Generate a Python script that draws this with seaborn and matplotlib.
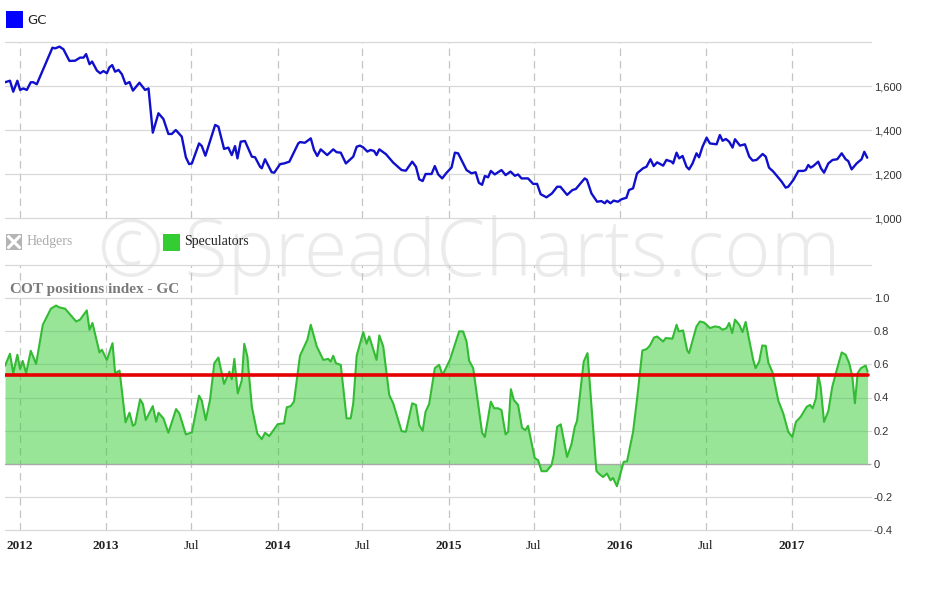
import numpy as np
import pandas as pd
import matplotlib
matplotlib.use("Agg")
import matplotlib.pyplot as plt
import seaborn as sns
from matplotlib.patches import Rectangle
from matplotlib.lines import Line2D

# ---------------- data (time in decimal years) ----------------
gc_time = [2012.411, 2012.440, 2012.459, 2012.483, 2012.499, 2012.518, 2012.538, 2012.561, 2012.576, 2012.596,
           2012.687, 2012.703, 2012.728, 2012.751, 2012.786, 2012.819, 2012.848, 2012.868, 2012.883, 2012.903,
           2012.918, 2012.946, 2012.965, 2012.984, 2013.004, 2013.019, 2013.035, 2013.052, 2013.072, 2013.092,
           2013.113, 2013.136, 2013.156, 2013.194, 2013.227, 2013.247, 2013.272, 2013.305, 2013.334, 2013.363,
           2013.383, 2013.406, 2013.441, 2013.465, 2013.484, 2013.500, 2013.542, 2013.558, 2013.579, 2013.636,
           2013.655, 2013.688, 2013.713, 2013.733, 2013.752, 2013.766, 2013.785, 2013.810, 2013.850, 2013.869,
           2013.898, 2013.908, 2013.927, 2013.966, 2013.981, 2014.015, 2014.038, 2014.069, 2014.121, 2014.131,
           2014.160, 2014.194, 2014.213, 2014.232, 2014.252, 2014.290, 2014.325, 2014.345, 2014.369, 2014.399,
           2014.442, 2014.462, 2014.481, 2014.500, 2014.524, 2014.543, 2014.563, 2014.578, 2014.594, 2014.633,
           2014.675, 2014.724, 2014.749, 2014.786, 2014.808, 2014.827, 2014.847, 2014.864, 2014.899, 2014.918,
           2014.938, 2014.961, 2014.987, 2015.016, 2015.035, 2015.054, 2015.103, 2015.132, 2015.156, 2015.175,
           2015.194, 2015.210, 2015.229, 2015.245, 2015.268, 2015.307, 2015.331, 2015.360, 2015.385, 2015.404,
           2015.424, 2015.462, 2015.492, 2015.515, 2015.536, 2015.570, 2015.602, 2015.632, 2015.651, 2015.690,
           2015.721, 2015.741, 2015.793, 2015.806, 2015.832, 2015.865, 2015.890, 2015.910, 2015.923, 2015.943,
           2015.962, 2015.987, 2016.007, 2016.036, 2016.051, 2016.075, 2016.098, 2016.133, 2016.153, 2016.176,
           2016.195, 2016.215, 2016.250, 2016.269, 2016.299, 2016.308, 2016.328, 2016.343, 2016.363, 2016.386,
           2016.401, 2016.421, 2016.444, 2016.459, 2016.479, 2016.503, 2016.522, 2016.561, 2016.580, 2016.596,
           2016.615, 2016.634, 2016.654, 2016.668, 2016.697, 2016.726, 2016.751, 2016.771, 2016.794, 2016.829,
           2016.847, 2016.866, 2016.891, 2016.940, 2016.963, 2016.978, 2017.008, 2017.037, 2017.066, 2017.080,
           2017.095, 2017.109, 2017.124, 2017.153, 2017.169, 2017.187, 2017.212, 2017.237, 2017.264, 2017.290,
           2017.313, 2017.328, 2017.348, 2017.377, 2017.406, 2017.422, 2017.439]
gc_price = [1617, 1624, 1574, 1624, 1582, 1589, 1582, 1617, 1617, 1608,
            1774, 1771, 1779, 1767, 1714, 1715, 1729, 1729, 1745, 1699,
            1711, 1670, 1658, 1668, 1658, 1685, 1695, 1665, 1673, 1653,
            1609, 1618, 1579, 1615, 1582, 1589, 1388, 1476, 1450, 1382,
            1382, 1400, 1370, 1276, 1245, 1248, 1339, 1327, 1283, 1423,
            1415, 1314, 1320, 1286, 1327, 1271, 1347, 1350, 1279, 1276,
            1233, 1226, 1267, 1208, 1206, 1245, 1248, 1256, 1339, 1345,
            1342, 1362, 1309, 1282, 1312, 1286, 1312, 1299, 1297, 1248,
            1279, 1324, 1329, 1321, 1302, 1309, 1305, 1286, 1312, 1290,
            1252, 1218, 1215, 1256, 1233, 1176, 1168, 1200, 1200, 1236,
            1198, 1180, 1206, 1230, 1297, 1294, 1218, 1203, 1208, 1160,
            1151, 1191, 1185, 1214, 1198, 1218, 1195, 1211, 1192, 1198,
            1180, 1180, 1155, 1155, 1108, 1094, 1112, 1142, 1142, 1105,
            1127, 1132, 1180, 1173, 1112, 1074, 1077, 1067, 1079, 1067,
            1079, 1074, 1085, 1092, 1127, 1135, 1203, 1226, 1233, 1267,
            1236, 1253, 1238, 1264, 1256, 1248, 1297, 1271, 1282, 1233,
            1221, 1248, 1294, 1276, 1324, 1365, 1339, 1335, 1377, 1351,
            1359, 1347, 1320, 1358, 1329, 1335, 1279, 1261, 1264, 1291,
            1279, 1229, 1211, 1165, 1138, 1142, 1173, 1214, 1214, 1218,
            1241, 1229, 1236, 1256, 1226, 1206, 1248, 1264, 1267, 1294,
            1267, 1259, 1221, 1248, 1267, 1301, 1274]

cot_time = [2012.411, 2012.440, 2012.459, 2012.483, 2012.499, 2012.514, 2012.534, 2012.561, 2012.592, 2012.631,
            2012.678, 2012.708, 2012.728, 2012.761, 2012.825, 2012.848, 2012.887, 2012.903, 2012.920, 2012.961,
            2012.975, 2013.004, 2013.037, 2013.052, 2013.078, 2013.113, 2013.136, 2013.156, 2013.169, 2013.198,
            2013.214, 2013.231, 2013.272, 2013.292, 2013.305, 2013.334, 2013.363, 2013.408, 2013.427, 2013.465,
            2013.500, 2013.542, 2013.558, 2013.581, 2013.606, 2013.631, 2013.655, 2013.688, 2013.719, 2013.733,
            2013.748, 2013.768, 2013.791, 2013.806, 2013.824, 2013.850, 2013.882, 2013.908, 2013.927, 2013.952,
            2014.001, 2014.038, 2014.054, 2014.077, 2014.096, 2014.131, 2014.174, 2014.194, 2014.229, 2014.267,
            2014.296, 2014.310, 2014.325, 2014.341, 2014.369, 2014.403, 2014.427, 2014.442, 2014.462, 2014.500,
            2014.520, 2014.535, 2014.578, 2014.594, 2014.617, 2014.652, 2014.675, 2014.724, 2014.749, 2014.786,
            2014.808, 2014.827, 2014.847, 2014.864, 2014.885, 2014.918, 2014.943, 2014.963, 2015.006, 2015.060,
            2015.083, 2015.103, 2015.118, 2015.142, 2015.194, 2015.210, 2015.245, 2015.264, 2015.287, 2015.307,
            2015.331, 2015.346, 2015.362, 2015.379, 2015.404, 2015.427, 2015.447, 2015.462, 2015.501, 2015.521,
            2015.541, 2015.570, 2015.599, 2015.612, 2015.632, 2015.653, 2015.690, 2015.715, 2015.735, 2015.748,
            2015.787, 2015.809, 2015.861, 2015.880, 2015.900, 2015.923, 2015.943, 2015.958, 2015.981, 2016.007,
            2016.020, 2016.040, 2016.075, 2016.098, 2016.129, 2016.153, 2016.172, 2016.197, 2016.215, 2016.250,
            2016.265, 2016.304, 2016.328, 2016.341, 2016.366, 2016.390, 2016.401, 2016.444, 2016.464, 2016.487,
            2016.503, 2016.522, 2016.551, 2016.576, 2016.596, 2016.619, 2016.634, 2016.652, 2016.668, 2016.693,
            2016.712, 2016.730, 2016.774, 2016.788, 2016.809, 2016.827, 2016.847, 2016.862, 2016.887, 2016.920,
            2016.949, 2016.978, 2017.002, 2017.023, 2017.051, 2017.086, 2017.105, 2017.121, 2017.140, 2017.153,
            2017.167, 2017.187, 2017.212, 2017.235, 2017.264, 2017.290, 2017.313, 2017.334, 2017.352, 2017.367,
            2017.383, 2017.402, 2017.430, 2017.441]
cot_index = [0.591, 0.664, 0.547, 0.658, 0.571, 0.621, 0.547, 0.682, 0.603, 0.839,
             0.936, 0.955, 0.944, 0.936, 0.859, 0.870, 0.926, 0.809, 0.850, 0.672,
             0.688, 0.627, 0.728, 0.547, 0.562, 0.250, 0.308, 0.229, 0.239, 0.389,
             0.361, 0.264, 0.348, 0.253, 0.308, 0.274, 0.187, 0.330, 0.304, 0.177,
             0.189, 0.411, 0.381, 0.264, 0.385, 0.607, 0.641, 0.482, 0.556, 0.510,
             0.633, 0.425, 0.502, 0.724, 0.647, 0.344, 0.183, 0.148, 0.187, 0.167,
             0.239, 0.244, 0.341, 0.348, 0.375, 0.652, 0.748, 0.839, 0.708, 0.627,
             0.633, 0.617, 0.652, 0.607, 0.597, 0.274, 0.274, 0.365, 0.652, 0.795,
             0.724, 0.769, 0.627, 0.775, 0.708, 0.415, 0.365, 0.197, 0.193, 0.365,
             0.355, 0.233, 0.199, 0.314, 0.361, 0.577, 0.597, 0.536, 0.627, 0.799,
             0.799, 0.738, 0.623, 0.577, 0.187, 0.162, 0.375, 0.335, 0.335, 0.324,
             0.177, 0.193, 0.450, 0.385, 0.355, 0.217, 0.203, 0.229, 0.035, 0.021,
             -0.045, -0.045, -0.009, 0.052, 0.223, 0.238, 0.041, 0.116, 0.223, 0.258,
             0.617, 0.668, -0.044, -0.064, -0.080, -0.059, -0.100, -0.086, -0.136, -0.039,
             0.011, 0.015, 0.193, 0.389, 0.684, 0.692, 0.712, 0.762, 0.768, 0.738,
             0.759, 0.755, 0.839, 0.799, 0.805, 0.684, 0.668, 0.829, 0.859, 0.853,
             0.839, 0.819, 0.829, 0.825, 0.809, 0.819, 0.850, 0.789, 0.870, 0.839,
             0.795, 0.856, 0.627, 0.577, 0.617, 0.714, 0.712, 0.611, 0.550, 0.381,
             0.304, 0.193, 0.162, 0.253, 0.284, 0.344, 0.355, 0.335, 0.395, 0.536,
             0.465, 0.253, 0.318, 0.465, 0.577, 0.672, 0.658, 0.607, 0.526, 0.365,
             0.547, 0.577, 0.593, 0.556]
cot_mean = 0.535

x_tick_dates = ["2012-07-01", "2013-01-01", "2013-07-01", "2014-01-01", "2014-07-01",
                "2015-01-01", "2015-07-01", "2016-01-01", "2016-07-01", "2017-01-01"]
x_tick_labels = ["2012", "2013", "Jul", "2014", "Jul", "2015", "Jul", "2016", "Jul", "2017"]
price_ticks = [1000, 1200, 1400, 1600, 1800]
price_labels = ["1,000", "1,200", "1,400", "1,600", ""]
cot_ticks = [-0.4, -0.2, 0, 0.2, 0.4, 0.6, 0.8, 1.0, 1.2]
cot_labels = ["-0.4", "-0.2", "0", "0.2", "0.4", "0.6", "0.8", "1.0", ""]


def to_date(t):
    y = int(np.floor(t))
    start = pd.Timestamp(y, 1, 1)
    ndays = (pd.Timestamp(y + 1, 1, 1) - start).days
    return start + pd.Timedelta(days=(t - y) * ndays)


gc_df = pd.DataFrame({"date": [to_date(t) for t in gc_time], "price": gc_price})
cot_df = pd.DataFrame({"date": [to_date(t) for t in cot_time], "index": cot_index})
cot_df["mean"] = cot_mean

# ---------------- style ----------------
sns.set_theme(style="white")
plt.rcParams["font.family"] = ["DejaVu Sans"]

W, H = 930, 610
fig = plt.figure(figsize=(W / 100, H / 100), dpi=100)
fig.patch.set_facecolor("white")


def box(l, t, r, b):
    return [l / W, 1 - b / H, (r - l) / W, (b - t) / H]


xmin = to_date(2012.411)
xmax = to_date(2017.461)
xt = [pd.Timestamp(d) for d in x_tick_dates]

ax1 = fig.add_axes(box(5, 42, 871, 218))
ax2 = fig.add_axes(box(5, 265, 871, 530))

for ax in (ax1, ax2):
    ax.set_facecolor("none")
    for s in ax.spines.values():
        s.set_visible(False)
    ax.set_axisbelow(True)
    ax.yaxis.tick_right()
    ax.tick_params(axis="both", length=0)
    ax.grid(axis="y", color="#d8d8d8", lw=0.9, ls="-")
    ax.grid(axis="x", color="#c4c4c4", lw=0.9, ls=(0, (6, 4)))

# ---- top: GC price ----
sns.lineplot(data=gc_df, x="date", y="price", ax=ax1, color="#1010cc", lw=1.7, legend=False)
ax1.set_ylim(1000, 1800)
ax1.set_yticks(price_ticks)
ax1.set_yticklabels(price_labels, fontsize=8, color="#333333", family="Liberation Sans")
ax1.tick_params(axis="y", pad=2)
ax1.set_xlim(xmin, xmax)
ax1.set_xticks(xt)
ax1.tick_params(axis="x", labelbottom=False)
ax1.set_xlabel("")
ax1.set_ylabel("")

# ---- bottom: COT index ----
ax2.fill_between(cot_df["date"], cot_df["index"], 0, color="#33cc33", alpha=0.5, lw=0)
sns.lineplot(data=cot_df, x="date", y="index", ax=ax2, color="#33bb33", lw=1.5, legend=False)
sns.lineplot(data=cot_df, x="date", y="mean", ax=ax2, color="#e60000", lw=2.6, legend=False)
ax2.axhline(0, color="#a8a8a8", lw=0.9, zorder=1.5)
ax2.set_ylim(-0.4, 1.2)
ax2.set_yticks(cot_ticks)
ax2.set_yticklabels(cot_labels, fontsize=8, color="#333333", family="Liberation Sans")
ax2.tick_params(axis="y", pad=2)
ax2.set_xlim(xmin, xmax)
ax2.set_xticks(xt)
ax2.set_xticklabels(x_tick_labels, family="Liberation Serif", fontsize=9.5, color="#222222")
for lab in ax2.get_xticklabels():
    if lab.get_text() != "Jul":
        lab.set_fontweight("bold")
ax2.tick_params(axis="x", pad=7)
ax2.set_xlabel("")
ax2.set_ylabel("")

# keep edge gridlines fully visible
for ax in (ax1, ax2):
    for gl in ax.get_ygridlines() + ax.get_xgridlines():
        gl.set_clip_on(False)

# ---- legends / titles ----
fig.patches.append(Rectangle((6 / W, 1 - 28 / H), 17 / W, 17 / H, transform=fig.transFigure,
                             facecolor="#0000ff", edgecolor="none"))
fig.text(27 / W, 1 - 20 / H, "GC", fontsize=9.5, color="#222222", va="center", ha="left")

fig.patches.append(Rectangle((6 / W, 1 - 250 / H), 16 / W, 16 / H, transform=fig.transFigure,
                             facecolor="#b4b4b4", edgecolor="none"))
for (x0, y0, x1, y1) in [(8.5, 236.5, 19.5, 247.5), (8.5, 247.5, 19.5, 236.5)]:
    fig.lines.append(Line2D([x0 / W, x1 / W], [1 - y0 / H, 1 - y1 / H], transform=fig.transFigure,
                            color="white", lw=2.2))
fig.text(27 / W, 1 - 242 / H, "Hedgers", fontsize=10, color="#aaaaaa", va="center", ha="left",
         family="Liberation Serif")
fig.patches.append(Rectangle((163 / W, 1 - 251 / H), 17 / W, 17 / H, transform=fig.transFigure,
                             facecolor="#33cc33", edgecolor="none"))
fig.text(184 / W, 1 - 242 / H, "Speculators", fontsize=10, color="#222222", va="center", ha="left",
         family="Liberation Serif")

fig.text(10 / W, 1 - 290 / H, "COT positions index - GC", fontsize=11, color="#7a7a7a",
         fontweight="bold", va="center", ha="left", family="Liberation Serif")

# watermark
fig.text(469 / W, 1 - 276 / H, "\u00a9 SpreadCharts.com", fontsize=57, color="#ebebeb",
         va="baseline", ha="center", family="Open Sans", fontweight="light", zorder=-1)

fig.savefig("out.png", dpi=100)
